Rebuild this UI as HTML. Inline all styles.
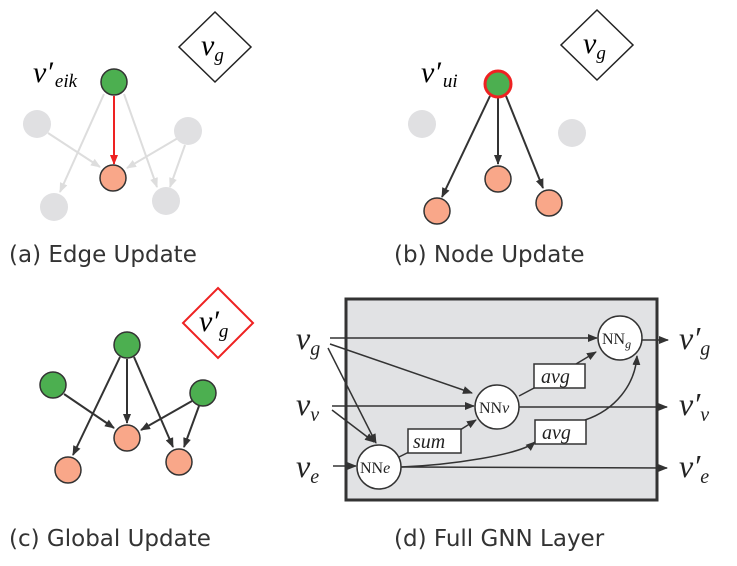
<!DOCTYPE html>
<html><head><style>body{margin:0;background:#fff}</style></head><body>
<svg width="737" height="561" xmlns="http://www.w3.org/2000/svg">
<defs>
<marker id="ak" markerWidth="10" markerHeight="10" refX="9" refY="5" orient="auto" markerUnits="userSpaceOnUse"><path d="M0,1 L10,5 L0,9 z" fill="#333"/></marker>
<marker id="ag" markerWidth="10" markerHeight="10" refX="9" refY="5" orient="auto" markerUnits="userSpaceOnUse"><path d="M0,1 L10,5 L0,9 z" fill="#ddd"/></marker>
<marker id="ar" markerWidth="10" markerHeight="10" refX="9" refY="5" orient="auto" markerUnits="userSpaceOnUse"><path d="M0,1 L10,5 L0,9 z" fill="#e22"/></marker>
</defs>
<g font-family="Liberation Serif, serif" font-style="italic">
<!-- (a) -->
<g stroke="#ddd" stroke-width="2" fill="none" marker-end="url(#ag)">
<line x1="104" y1="94" x2="60" y2="192"/>
<line x1="124" y1="94" x2="157" y2="187"/>
<line x1="48" y1="133" x2="100" y2="167"/>
<line x1="178" y1="138" x2="127" y2="168"/>
<line x1="185" y1="145" x2="170" y2="187"/>
</g>
<line x1="114" y1="96" x2="114" y2="164" stroke="#e22" stroke-width="2" marker-end="url(#ar)"/>
<circle cx="37" cy="124" r="14" fill="#e0e0e2"/><circle cx="188" cy="131" r="14" fill="#e0e0e2"/>
<circle cx="54" cy="207" r="14" fill="#e0e0e2"/><circle cx="166" cy="201" r="14" fill="#e0e0e2"/>
<circle cx="114" cy="82" r="13" fill="#4caf50" stroke="#333" stroke-width="1.5"/>
<circle cx="113" cy="178" r="13" fill="#f9a789" stroke="#333" stroke-width="1.5"/>
<polygon points="215,12 251,47 215,82 179,47" fill="#fff" stroke="#222" stroke-width="1.5"/>
<text x="201" y="55" font-size="30">v<tspan font-size="19" dy="6">g</tspan></text>
<text x="33" y="82" font-size="30">v′<tspan font-size="19" dy="5" dx="2">eik</tspan></text>
<!-- (b) -->
<circle cx="422" cy="124" r="14" fill="#e0e0e2"/><circle cx="572" cy="133" r="14" fill="#e0e0e2"/>
<g stroke="#333" stroke-width="2" fill="none" marker-end="url(#ak)">
<line x1="490" y1="96" x2="442" y2="197"/>
<line x1="498" y1="98" x2="498" y2="164"/>
<line x1="506" y1="96" x2="543" y2="188"/>
</g>
<circle cx="498" cy="84" r="13" fill="#4caf50" stroke="#e22" stroke-width="3"/>
<circle cx="498" cy="179" r="13" fill="#f9a789" stroke="#333" stroke-width="1.5"/>
<circle cx="437" cy="211" r="13" fill="#f9a789" stroke="#333" stroke-width="1.5"/>
<circle cx="549" cy="203" r="13" fill="#f9a789" stroke="#333" stroke-width="1.5"/>
<polygon points="597,10 633,45 597,80 561,45" fill="#fff" stroke="#222" stroke-width="1.5"/>
<text x="583" y="53" font-size="30">v<tspan font-size="19" dy="6">g</tspan></text>
<text x="421" y="82" font-size="30">v′<tspan font-size="19" dy="5" dx="2">ui</tspan></text>
<!-- (c) -->
<g stroke="#333" stroke-width="2" fill="none" marker-end="url(#ak)">
<line x1="120" y1="357" x2="73" y2="455"/>
<line x1="127" y1="359" x2="127" y2="423"/>
<line x1="134" y1="357" x2="173" y2="447"/>
<line x1="64" y1="394" x2="114" y2="428"/>
<line x1="192" y1="401" x2="141" y2="430"/>
<line x1="199" y1="406" x2="184" y2="447"/>
</g>
<circle cx="127" cy="345" r="13" fill="#4caf50" stroke="#333" stroke-width="1.5"/>
<circle cx="53" cy="385" r="13" fill="#4caf50" stroke="#333" stroke-width="1.5"/>
<circle cx="203" cy="393" r="13" fill="#4caf50" stroke="#333" stroke-width="1.5"/>
<circle cx="127" cy="438" r="13" fill="#f9a789" stroke="#333" stroke-width="1.5"/>
<circle cx="68" cy="470" r="13" fill="#f9a789" stroke="#333" stroke-width="1.5"/>
<circle cx="179" cy="462" r="13" fill="#f9a789" stroke="#333" stroke-width="1.5"/>
<polygon points="218,288 253,323 218,358 183,323" fill="#fff" stroke="#e22" stroke-width="2"/>
<text x="199" y="331" font-size="30">v′<tspan font-size="19" dy="6">g</tspan></text>
<!-- (d) -->
<rect x="346" y="299" width="311" height="201" fill="#e1e2e4" stroke="#333" stroke-width="3"/>
<g stroke="#333" stroke-width="1.5" fill="none" marker-end="url(#ak)">
<line x1="330" y1="338" x2="597" y2="338"/>
<line x1="330" y1="344" x2="472" y2="393"/>
<line x1="328" y1="348" x2="376" y2="443"/>
<line x1="332" y1="406" x2="474" y2="406"/>
<line x1="332" y1="410" x2="374" y2="442"/>
<line x1="333" y1="466" x2="356" y2="466"/>
<line x1="460" y1="430" x2="476" y2="420"/>
<line x1="576" y1="364" x2="596" y2="352"/>
<line x1="642" y1="340" x2="668" y2="340"/>
<line x1="519" y1="407" x2="667" y2="407"/>
<line x1="401" y1="467" x2="667" y2="468"/>
<path d="M401,467 C450,465 520,455 535,442"/>
<path d="M585,420 C615,410 635,385 637,356"/>
</g>
<line x1="519" y1="396" x2="536" y2="387" stroke="#333" stroke-width="1.5"/>
<line x1="397" y1="458" x2="409" y2="452" stroke="#333" stroke-width="1.5"/>
<g fill="#fff" stroke="#333" stroke-width="1.5">
<rect x="534" y="364" width="51" height="24"/>
<rect x="408" y="429" width="53" height="24"/>
<rect x="535" y="420" width="51" height="24"/>
<circle cx="620" cy="338" r="22"/><circle cx="497" cy="407" r="22"/><circle cx="379" cy="467" r="22"/>
</g>
<g font-size="20" fill="#222"><text x="541" y="383">avg</text><text x="413" y="448">sum</text><text x="542" y="439">avg</text></g>
<g font-style="normal" font-size="16" fill="#222"><text x="602" y="344">NN<tspan font-style="italic" font-size="12" dy="4">g</tspan></text>
<text x="479" y="413">NN<tspan font-style="italic">v</tspan></text><text x="360" y="473">NN<tspan font-style="italic">e</tspan></text></g>
<g font-size="32" fill="#222">
<text x="296" y="349">v<tspan font-size="20" dy="6">g</tspan></text>
<text x="296" y="415">v<tspan font-size="20" dy="6">v</tspan></text>
<text x="296" y="477">v<tspan font-size="20" dy="6">e</tspan></text>
<text x="679" y="349">v′<tspan font-size="20" dy="6">g</tspan></text>
<text x="679" y="415">v′<tspan font-size="20" dy="6">v</tspan></text>
<text x="679" y="477">v′<tspan font-size="20" dy="6">e</tspan></text>
</g>
</g>
<g font-family="DejaVu Sans, sans-serif" font-size="23" fill="#333">
<text x="9" y="262">(a) Edge Update</text>
<text x="394" y="262">(b) Node Update</text>
<text x="9" y="546">(c) Global Update</text>
<text x="394" y="546">(d) Full GNN Layer</text>
</g>
</svg>
</body></html>
